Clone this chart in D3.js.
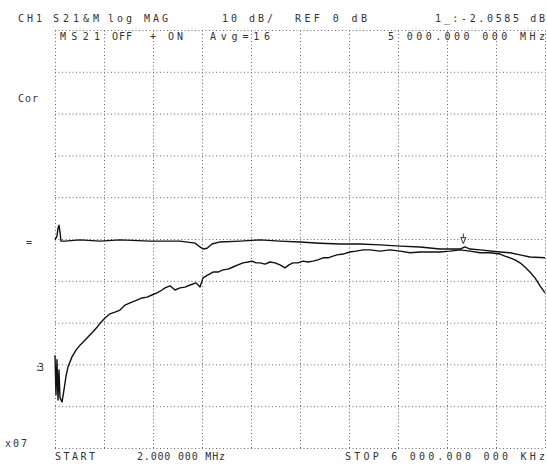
<!DOCTYPE html>
<html>
<head>
<meta charset="utf-8">
<style>
body { margin: 0; padding: 0; background: #fff; overflow: hidden; }
text { font-family: "DejaVu Sans Mono", monospace; font-size: 10px; fill: #333; }
.grid line { stroke: #666; stroke-width: 1; stroke-dasharray: 1, 2.5; }
.grid path { display: none; }
.trace { fill: none; stroke: #111; stroke-width: 1.4; stroke-linejoin: round; }
</style>
</head>
<body>
<script src="https://cdnjs.cloudflare.com/ajax/libs/d3/7.8.5/d3.min.js"></script>
<script>
// sweep 2 MHz .. 6000 MHz, 10 dB/div, ref 0 dB at centre
var xTicks = [2, 601.8, 1201.6, 1801.4, 2401.2, 3001, 3600.8, 4200.6, 4800.4, 5400.2, 6000];
var yTicks = [-50, -40, -30, -20, -10, 0, 10, 20, 30, 40, 50];

// upper trace (through, OFF state)
var offFreq = [2, 26, 39, 51, 63, 75, 124, 308, 553, 798, 1165, 1532, 1716, 1777, 1814, 1863, 1924, 2022, 2266, 2511, 2756, 3001, 3245, 3490, 3735, 3980, 4225, 4469, 4714, 4959, 5020, 5082, 5204, 5449, 5571, 5694, 5816, 6000];
var offDb = [-0.2, 0.7, 2.6, 3.3, 1.7, -0.5, -0.5, -0.2, -0.5, -0.2, -0.5, -0.5, -1.0, -1.9, -2.4, -2.2, -1.2, -0.7, -0.5, -0.2, -0.5, -0.7, -1.0, -1.2, -1.2, -1.4, -1.7, -1.9, -2.4, -2.4, -1.9, -2.4, -2.6, -3.1, -3.3, -3.8, -4.3, -4.5];

// lower trace (ON state)
var onFreq = [2, 14, 26, 39, 51, 63, 88, 112, 137, 161, 210, 259, 308, 394, 467, 516, 565, 614, 675, 736, 798, 859, 920, 1006, 1067, 1128, 1189, 1251, 1312, 1349, 1410, 1471, 1532, 1593, 1655, 1728, 1777, 1814, 1875, 1936, 1997, 2058, 2120, 2181, 2242, 2303, 2365, 2414, 2462, 2511, 2573, 2634, 2695, 2756, 2817, 2866, 2915, 2977, 3038, 3099, 3160, 3221, 3283, 3344, 3405, 3454, 3527, 3613, 3686, 3772, 3858, 3980, 4103, 4225, 4348, 4470, 4592, 4715, 4837, 4960, 5082, 5204, 5327, 5449, 5510, 5572, 5633, 5694, 5755, 5816, 5878, 5939, 6000];
var onDb = [-27.8, -37.3, -28.9, -38.5, -31.3, -38.0, -39.0, -36.1, -32.8, -30.6, -28.2, -26.6, -25.4, -23.7, -22.2, -21.1, -19.9, -18.9, -17.9, -17.5, -17.0, -15.8, -15.3, -14.6, -14.1, -13.9, -13.4, -12.9, -12.2, -11.7, -11.2, -12.2, -11.7, -11.5, -11.0, -10.5, -11.5, -9.3, -8.6, -7.9, -7.9, -7.4, -7.2, -6.7, -6.2, -5.7, -5.5, -5.3, -5.7, -5.7, -6.0, -5.5, -5.7, -6.2, -6.9, -6.2, -5.7, -5.7, -5.3, -5.5, -5.3, -5.0, -4.5, -4.5, -4.1, -3.8, -3.6, -3.1, -2.9, -2.6, -2.6, -2.9, -2.6, -2.9, -3.3, -3.1, -3.1, -3.1, -2.9, -2.6, -2.9, -3.3, -3.3, -3.6, -4.1, -4.5, -5.0, -5.7, -6.7, -7.9, -9.3, -11.2, -12.9];

var markerFreq = 5000, markerDb = -2.0585;

var W = 547, H = 465;
var gLeft = 55, gRight = 545, gTop = 30, gBottom = 448;

var svg = d3.select("body").append("svg")
    .attr("width", W)
    .attr("height", H);

var x = d3.scaleLinear().domain([2, 6000]).range([gLeft, gRight]);
var y = d3.scaleLinear().domain([-50, 50]).range([gBottom, gTop]);

svg.append("g")
    .attr("class", "grid")
    .attr("transform", "translate(0," + gBottom + ")")
    .call(d3.axisBottom(x).tickValues(xTicks).tickSize(-(gBottom - gTop)).tickFormat(""));

svg.append("g")
    .attr("class", "grid")
    .attr("transform", "translate(" + gLeft + ",0)")
    .call(d3.axisLeft(y).tickValues(yTicks).tickSize(-(gRight - gLeft)).tickFormat(""));

var line = d3.line()
    .x(function(d) { return x(d[0]); })
    .y(function(d) { return y(d[1]); });

svg.append("path")
    .attr("class", "trace")
    .attr("d", line(d3.zip(offFreq, offDb)));

svg.append("path")
    .attr("class", "trace")
    .attr("d", line(d3.zip(onFreq, onDb)));

// marker 1
var mx = x(markerFreq), my = y(markerDb);
svg.append("path")
    .attr("d", "M" + mx + "," + (my - 4) + "l-2.5,-6 l5,0 z M" + mx + "," + (my - 10) + "l0,-4")
    .attr("fill", "none")
    .attr("stroke", "#333")
    .attr("stroke-width", 1);

// annotations
var labels = [
    { t: "CH1", x: 18, y: 22, w: 24 },
    { t: "S21&M", x: 53, y: 22, w: 46 },
    { t: "log MAG", x: 108, y: 22, w: 60 },
    { t: "10 dB/", x: 222, y: 22, w: 51 },
    { t: "REF 0 dB", x: 295, y: 22, w: 72 },
    { t: "1_:-2.0585 dB", x: 435, y: 22, w: 110 },
    { t: "MS21", x: 60, y: 40, w: 40 },
    { t: "OFF", x: 112, y: 40, w: 20 },
    { t: "+", x: 150, y: 40, w: 7 },
    { t: "ON", x: 168, y: 40, w: 15 },
    { t: "Avg=16", x: 210, y: 40, w: 60 },
    { t: "5 000.000 000 MHz", x: 388, y: 40, w: 157 },
    { t: "Cor", x: 18, y: 102, w: 20 },
    { t: "=", x: 26, y: 246, w: 7 },
    { t: ":3", x: 35, y: 371, w: 9 },
    { t: "x07", x: 5, y: 447, w: 22 },
    { t: "START", x: 55, y: 460, w: 40 },
    { t: "2.000 000 MHz", x: 137, y: 460, w: 88 },
    { t: "STOP 6 000.000 000 KHz", x: 345, y: 460, w: 200 }
];

svg.selectAll(".lbl")
    .data(labels)
    .enter().append("text")
    .attr("class", "lbl")
    .attr("x", function(d) { return d.x; })
    .attr("y", function(d) { return d.y; })
    .attr("textLength", function(d) { return d.w; })
    .attr("lengthAdjust", "spacing")
    .text(function(d) { return d.t; });
</script>
</body>
</html>
